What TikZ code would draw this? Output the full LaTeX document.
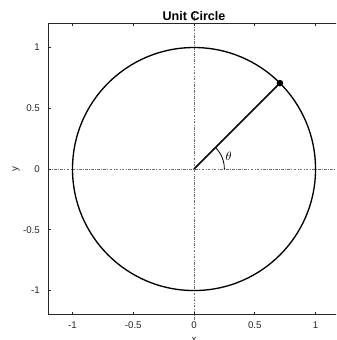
\documentclass[tikz,border=0pt]{standalone}
\usepackage{fontspec}
\setmainfont{Liberation Sans}
\definecolor{axisgray}{HTML}{262626}
\definecolor{refgray}{HTML}{6E6E6E}
\begin{document}
\begin{tikzpicture}[x=91.125pt,y=91.125pt,
  axisline/.style={draw=axisgray,line width=0.8pt},
  tickmark/.style={draw=axisgray,line width=0.6pt},
  ticklabel/.style={text=axisgray,inner sep=0pt,font=\fontsize{7.3}{8}\selectfont},
  refline/.style={draw=refgray,line width=0.5pt,dash pattern=on 2pt off 1pt on 0.6pt off 1pt},
  curve/.style={draw=black,line width=1pt},
  titlelabel/.style={inner sep=0pt,font=\fontsize{9.4}{10}\selectfont\bfseries},
  axislabel/.style={text=axisgray,inner sep=0pt,font=\fontsize{7.3}{8}\selectfont}]
\useasboundingbox (-1.5967,-1.407) rectangle (1.1687,1.391);
\clip (-1.5967,-1.407) rectangle (1.1687,1.391);
% reference lines
\coordinate (O) at (0,0);
\coordinate (hl) at (-1.2,0);
\coordinate (hr) at (1.2,0);
\coordinate (vb) at (0,-1.24);
\coordinate (vt) at (0,1.30);
\draw[refline] (hl) -- (hr);
\draw[refline] (vb) -- (vt);
% axes box
\coordinate (tl) at (-1.2,1.2);
\coordinate (bl) at (-1.2,-1.2);
\coordinate (tr) at (1.2,1.2);
\coordinate (br) at (1.2,-1.2);
\draw[axisline] (tr) -- (tl) -- (bl) -- (br);
% ticks
\foreach \v/\t in {-1/-1,-0.5/-0.5,0/0,0.5/0.5,1/1} {
  \draw[tickmark] (\v,-1.2) -- (\v,-1.175);
  \draw[tickmark] (\v,1.2) -- (\v,1.175);
  \draw[tickmark] (-1.2,\v) -- (-1.175,\v);
  \node[ticklabel,anchor=center] (xt\t) at (\v,-1.284) {\t};
  \node[ticklabel,anchor=east] (yt\t) at (-1.267,\v) {\t};
}
% labels
\node[titlelabel,anchor=base] (title) at (0,1.222) {Unit Circle};
\node[axislabel,anchor=north] (xlab) at (0,-1.383) {x};
\node[axislabel,rotate=90,anchor=center] (ylab) at (-1.465,0) {y};
% circle and radius
\draw[curve] (O) circle (1);
\coordinate (P) at (45:1);
\draw[black,line width=1.2pt] (O) -- (P);
\fill[black] (P) circle (0.027);
\draw[black,line width=0.6pt] (0.25,0) arc (0:45:0.25);
\node[inner sep=0pt,font=\fontsize{9}{10}\selectfont] (th) at (0.285,0.105) {$\theta$};
\end{tikzpicture}
\end{document}
